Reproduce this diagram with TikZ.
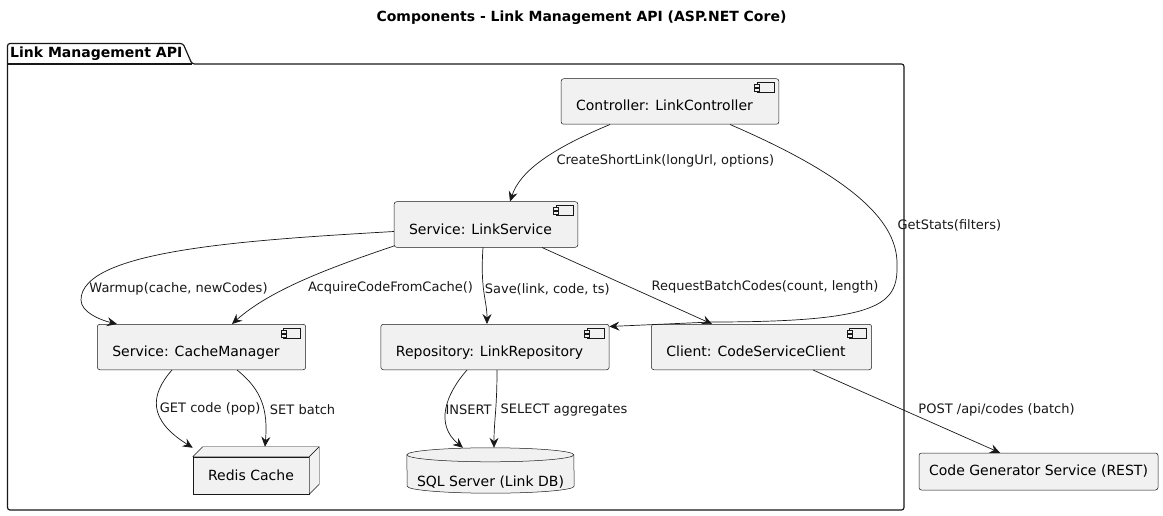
\documentclass[tikz,border=0pt]{standalone}
\usepackage{fontspec}
\setmainfont{DejaVu Sans}
\usepackage{xcolor}
\definecolor{ink}{HTML}{181818}
\definecolor{boxfill}{HTML}{F1F1F1}
\usetikzlibrary{arrows.meta,backgrounds}

\begin{document}
\begin{tikzpicture}[
    x=1pt, y=1pt,
    comp/.style={
        draw=ink,
        fill=boxfill,
        line width=0.5pt,
        rounded corners=2.5pt,
        minimum height=45.5pt,
        inner xsep=15pt,
        text height=19pt,
        text depth=0pt,
        font=\fontsize{14}{16}\selectfont,
        execute at end node={\hspace{11pt}},
        path picture={
            \coordinate (icon) at ([shift={(-22pt,-4pt)}]path picture bounding box.north east);
            \draw[ink, line width=0.5pt, sharp corners] (icon) rectangle ++(17pt,-10pt);
            \draw[ink, fill=boxfill, line width=0.5pt, sharp corners] ([shift={(-2.5pt,-2pt)}]icon) rectangle ++(5pt,-2.5pt);
            \draw[ink, fill=boxfill, line width=0.5pt, sharp corners] ([shift={(-2.5pt,-6pt)}]icon) rectangle ++(5pt,-2.5pt);
        }
    },
    plainbox/.style={
        draw=ink,
        fill=boxfill,
        line width=0.5pt,
        rounded corners=2.5pt,
        minimum width=239pt,
        minimum height=37pt,
        font=\fontsize{14}{16}\selectfont
    },
    nodebox/.style={
        draw=ink,
        fill=boxfill,
        line width=0.5pt,
        minimum width=116pt,
        minimum height=37pt,
        font=\fontsize{14}{16}\selectfont
    },
    dbbox/.style={
        minimum width=167pt,
        minimum height=45pt,
        inner sep=0pt,
        text height=31pt,
        text depth=0pt,
        font=\fontsize{14}{16}\selectfont
    },
    face/.style={draw=ink, fill=boxfill, line width=0.4pt, line join=round},
    flow/.style={draw=ink, line width=0.7pt, -{Stealth[length=10pt, width=9pt, inset=3.5pt]}},
    lbl/.style={font=\fontsize{13}{15}\selectfont, text=ink, inner sep=1pt, anchor=west}
]
\useasboundingbox (0,0) rectangle (1163,-516);

% === TITLE ===
\node[font=\bfseries\fontsize{14}{16}\selectfont] (title) at (581.5,-18) {Components - Link Management API (ASP.NET Core)};

% === PACKAGE FRAME ===
\draw[ink, line width=1.2pt, rounded corners=2.5pt] (7.5,-43.5) -- (183,-43.5) -- (192,-64) -- (904,-64) -- (904,-510) -- (7.5,-510) -- cycle;
\draw[ink, line width=1.2pt] (7.5,-64) -- (192,-64);
\node[font=\bfseries\fontsize{14}{16}\selectfont, anchor=west, inner sep=0pt] (pkglabel) at (10,-54) {Link Management API};

% === COMPONENTS ===
\node[comp] (ctrl) at (670,-101.5) {Controller: LinkController};
\node[comp] (svc) at (486,-224.5) {Service: LinkService};
\node[comp] (cache) at (201.5,-347) {Service: CacheManager};
\node[comp] (repo) at (495,-347) {Repository: LinkRepository};
\node[comp] (client) at (761.5,-347) {Client: CodeServiceClient};

% === STORES ===
\node[nodebox] (redis) at (251,-475.5) {Redis Cache};
\draw[face] (redis.north west) -- ++(10,10) -- ([shift={(10pt,10pt)}]redis.north east) -- (redis.north east) -- cycle;
\draw[face] (redis.north east) -- ++(10,10) -- ([shift={(10pt,10pt)}]redis.south east) -- (redis.south east) -- cycle;

\node[dbbox] (sql) at (490.5,-470.5) {SQL Server (Link DB)};

% External service, outside the package
\node[plainbox] (gen) at (1038.5,-471.5) {Code Generator Service (REST)};

% cylinder body goes behind its text
\begin{scope}[on background layer]
    \fill[white] (0,0) rectangle (1163,-516);
    \path[face, line width=0.5pt] ([yshift=-7pt]sql.north west) arc[start angle=180, end angle=0, x radius=83.5pt, y radius=7pt]
        -- ([yshift=7pt]sql.south east) arc[start angle=0, end angle=-180, x radius=83.5pt, y radius=7pt] -- cycle;
    \draw[ink, line width=0.5pt] ([yshift=-7pt]sql.north west) arc[start angle=180, end angle=360, x radius=83.5pt, y radius=7pt];
\end{scope}

% === ARROWS ===
\coordinate (statsturn) at (897,-265);
\coordinate (warmturn) at (81,-300);

% Controller to service
\draw[flow] ([xshift=-60pt]ctrl.south) .. controls +(-60,-25) and +(10,30) .. node[lbl, pos=0.5, xshift=14pt] {CreateShortLink(longUrl, options)} ([xshift=24pt]svc.north);

% Controller to repository, long loop on the right
\draw[flow] ([xshift=60pt]ctrl.south) .. controls +(130,-56) and +(1,40) .. node[lbl, pos=0.68, xshift=12pt] {GetStats(filters)} (statsturn)
    .. controls +(1,-40) and +(168,0) .. ([shift={(-50pt,2pt)}]client.north) -- ([yshift=-2.5pt]repo.north east);

% Service to cache manager
\draw[flow] ([yshift=-7pt]svc.west) .. controls +(-145,-8.5) and +(0,50) .. node[lbl, pos=0.92, xshift=4pt] {Warmup(cache, newCodes)} (warmturn)
    .. controls +(0,-12) and +(-17,4) .. ([xshift=-84.5pt]cache.north);
\draw[flow] ([yshift=1.5pt]svc.south west) .. controls +(-65,-22) and +(38,34) .. node[lbl, pos=0.6, xshift=20pt] {AcquireCodeFromCache()} ([xshift=30.5pt]cache.north);

% Service to repository and client
\draw[flow] ([xshift=-3pt]svc.south) .. controls +(-3,-43) and +(0,24) .. node[lbl, pos=0.45] {Save(link, code, ts)} ([xshift=-8pt]repo.north);
\draw[flow] ([xshift=56pt]svc.south) -- node[lbl, pos=0.513, xshift=21pt] {RequestBatchCodes(count, length)} ([xshift=-49.5pt]client.north);

% Cache manager to Redis
\draw[flow] ([xshift=-29.5pt]cache.south) .. controls +(-22,-25) and +(-45,28) .. node[lbl, pos=0.52, xshift=1pt] {GET code (pop)} ([yshift=9pt]redis.north west);
\draw[flow] ([xshift=35.5pt]cache.south) .. controls +(25,-20) and +(3,37) .. node[lbl, pos=0.6, xshift=5pt] {SET batch} ([shift={(14pt,10pt)}]redis.north);

% Repository to SQL Server
\draw[flow] ([xshift=-28pt]repo.south) .. controls +(-22,-25) and +(-28,23) .. node[lbl, pos=0.5, xshift=-2pt] {INSERT} ([xshift=-27.5pt]sql.north);
\draw[flow] ([xshift=2pt]repo.south) .. controls +(0,-40) and +(0,28) .. node[lbl, pos=0.45, xshift=3.5pt] {SELECT aggregates} ([xshift=3.5pt]sql.north);

% Client to the generator service
\draw[flow] ([xshift=51.5pt]client.south) -- node[lbl, pos=0.482, xshift=14pt] {POST /api/codes (batch)} ([xshift=-38.5pt]gen.north);

\end{tikzpicture}
\end{document}
